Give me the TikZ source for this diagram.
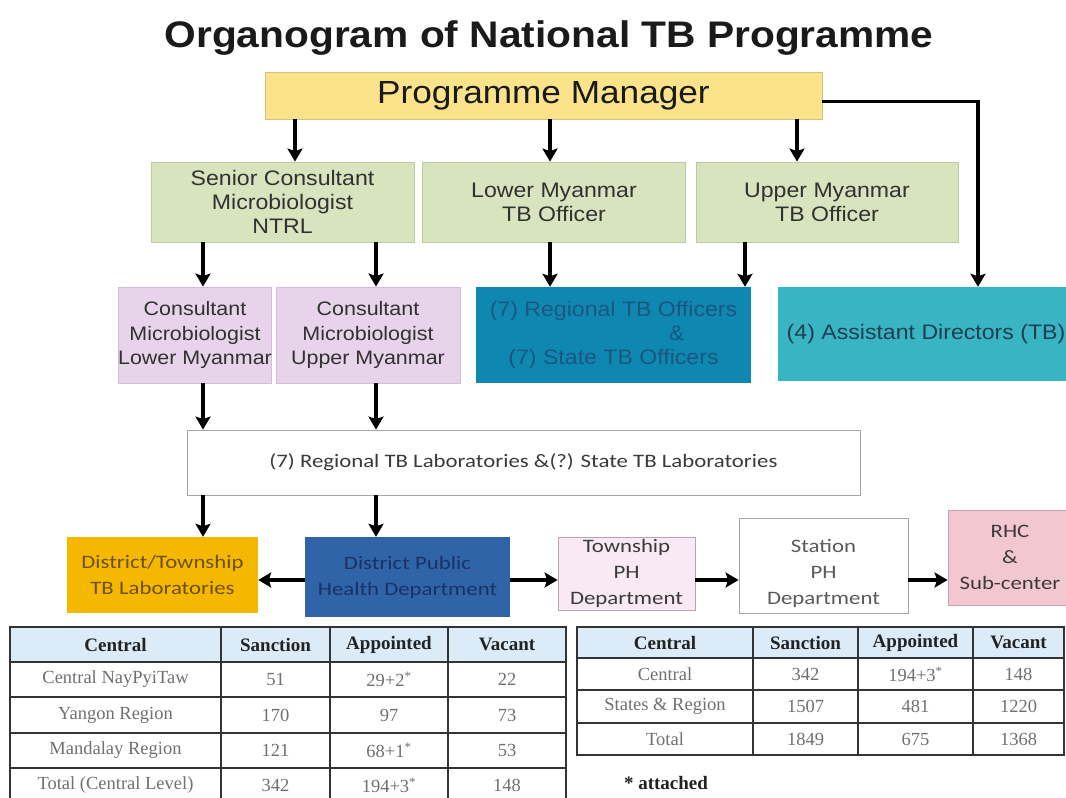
\documentclass[tikz,border=0pt]{standalone}
\usepackage{fontspec}
\newfontfamily\arialx{Liberation Sans}[FakeStretch=1.1]
\newfontfamily\calibrix{Carlito}[FakeStretch=1.2]
\newfontfamily\tabfont{Liberation Serif}
\usetikzlibrary{arrows.meta}
\definecolor{titletext}{HTML}{1A1A1A}
\definecolor{pmfill}{HTML}{FBE38B}
\definecolor{pmline}{HTML}{D4C37A}
\definecolor{greenfill}{HTML}{D7E4BD}
\definecolor{greenline}{HTML}{BCCB9E}
\definecolor{pinkfill}{HTML}{E7D3EA}
\definecolor{pinkline}{HTML}{D2BCD6}
\definecolor{regfill}{HTML}{0F88B1}
\definecolor{regtext}{HTML}{1A567F}
\definecolor{adfill}{HTML}{39B4C3}
\definecolor{adtext}{HTML}{1D3F52}
\definecolor{boxline}{HTML}{A6A6A6}
\definecolor{labtext}{HTML}{3A3A3A}
\definecolor{orangefill}{HTML}{F5B801}
\definecolor{orangetext}{HTML}{6E4F10}
\definecolor{bluefill}{HTML}{3064A9}
\definecolor{bluetext}{HTML}{1A3262}
\definecolor{lightpink}{HTML}{F8E9F4}
\definecolor{lightpinkline}{HTML}{B9A3B5}
\definecolor{rhcfill}{HTML}{F3C7D0}
\definecolor{rhcline}{HTML}{C9A2AC}
\definecolor{headfill}{HTML}{DCEBF8}
\definecolor{headtext}{HTML}{222222}
\definecolor{celltext}{HTML}{707070}
\definecolor{tabline}{HTML}{333333}
\begin{document}
\begin{tikzpicture}[
    x=1pt, y=-1pt,
    every node/.style={inner sep=0pt, align=center},
    box/.style={draw, line width=0.8pt},
    arr/.style={line width=3.6pt, -{Stealth[length=13pt,width=15pt,inset=2.5pt]}},
    titlefont/.style={font=\arialx\bfseries\fontsize{37}{44}\selectfont, text=titletext},
    bigfont/.style={font=\arialx\fontsize{32}{38}\selectfont, text=titletext},
    boxfont/.style={font=\arialx\fontsize{21}{24}\selectfont, text=titletext!90},
    smallboxfont/.style={font=\arialx\fontsize{19.5}{24.5}\selectfont, text=titletext!90},
    labfont/.style={font=\calibrix\fontsize{19}{26}\selectfont},
    headfont/.style={font=\tabfont\bfseries\fontsize{19}{22}\selectfont, text=headtext},
    cellfont/.style={font=\tabfont\fontsize{18.5}{22}\selectfont, text=celltext},
    tabrule/.style={draw=tabline, line width=2pt}
]
\useasboundingbox (0,0) rectangle (1066,798);
\fill[white] (0,0) rectangle (1066,798);

\node[titlefont] (title) at (549,38) {Organogram of National TB Programme};
\node[box, bigfont, fill=pmfill, draw=pmline, minimum width=557, minimum height=47] (pm) at (543.5,95.5) {Programme Manager};

\node[box, boxfont, fill=greenfill, draw=greenline, minimum width=263, minimum height=80] (senior) at (282.5,202) {Senior Consultant\\Microbiologist\\NTRL};
\node[box, boxfont, fill=greenfill, draw=greenline, minimum width=263, minimum height=80] (lowertb) at (554,202) {Lower Myanmar\\TB Officer};
\node[box, boxfont, fill=greenfill, draw=greenline, minimum width=262, minimum height=80] (uppertb) at (827,202) {Upper Myanmar\\TB Officer};

\node[box, smallboxfont, fill=pinkfill, draw=pinkline, minimum width=150, minimum height=96] (conlower) at (195,335) {Consultant\\Microbiologist\\Lower Myanmar};
\node[box, smallboxfont, fill=pinkfill, draw=pinkline, minimum width=184, minimum height=96] (conupper) at (368,335) {Consultant\\Microbiologist\\Upper Myanmar};
\node[boxfont, fill=regfill, text=regtext, minimum width=275, minimum height=96] (regional) at (613.5,335) {(7) Regional TB Officers\\\hspace*{6em}\&\\(7) State TB Officers};
\node[boxfont, fill=adfill, text=adtext, minimum width=296, minimum height=94] (assistant) at (926,334) {(4) Assistant Directors (TB)};

\node[box, labfont, draw=boxline, fill=white, text=labtext, minimum width=673, minimum height=65] (labs) at (523.5,462.5) {(7) Regional TB Laboratories \&(?) State TB Laboratories};

\node[labfont, fill=orangefill, text=orangetext, minimum width=191, minimum height=76] (distlab) at (162.5,575) {District/Township\\TB Laboratories};
\node[labfont, fill=bluefill, text=bluetext, minimum width=205, minimum height=80] (dphd) at (407.5,577) {District Public\\Health Department};
\node[box, labfont, fill=lightpink, draw=lightpinkline, text=labtext, minimum width=137, minimum height=73] (township) at (626.5,573.5) {Township\\PH\\Department};
\node[box, draw=boxline, fill=white, minimum width=169, minimum height=95] (station) at (823.5,565.5) {};
\node[labfont, text=celltext!80!black] (stationtext) at (823.5,573) {Station\\PH\\Department};
\node[box, labfont, fill=rhcfill, draw=rhcline, text=labtext, minimum width=124, minimum height=95] (rhc) at (1010,557.5) {RHC\\\&\\Sub-center};

\draw[arr] (295,0 |- pm.south) -- (295,0 |- senior.north);
\draw[arr] (550,0 |- pm.south) -- (550,0 |- lowertb.north);
\draw[arr] (797,0 |- pm.south) -- (797,0 |- uppertb.north);
\draw[arr] ([yshift=-6pt]pm.east) -| (978,0 |- assistant.north);
\draw[arr] (203,0 |- senior.south) -- (203,0 |- conlower.north);
\draw[arr] (376,0 |- senior.south) -- (376,0 |- conupper.north);
\draw[arr] (550,0 |- lowertb.south) -- (550,0 |- regional.north);
\draw[arr] (745,0 |- uppertb.south) -- (745,0 |- regional.north);
\draw[arr] (203,0 |- conlower.south) -- (203,0 |- labs.north);
\draw[arr] (376,0 |- conupper.south) -- (376,0 |- labs.north);
\draw[arr] (203,0 |- labs.south) -- (203,0 |- distlab.north);
\draw[arr] (376,0 |- labs.south) -- (376,0 |- dphd.north);
\draw[arr] (dphd.west |- 0,580) -- (distlab.east |- 0,580);
\draw[arr] (dphd.east |- 0,580) -- (township.west |- 0,580);
\draw[arr] (township.east |- 0,580) -- (station.west |- 0,580);
\draw[arr] (station.east |- 0,580) -- (rhc.west |- 0,580);

\fill[headfill] (10,627) rectangle (566,662);
\draw[tabrule] (10,627) rectangle (566,803);
\foreach \y in {662,697,733,768} \draw[tabrule] (10,\y) -- (566,\y);
\foreach \x in {221,330,448} \draw[tabrule] (\x,627) -- (\x,803);
\foreach \x/\t [count=\i] in {115.5/Central, 275.5/Sanction, 389/Appointed, 507/Vacant}
    \node[headfont] (lhead\i) at (\x,644.5) {\t};
\foreach \y/\a/\b/\c/\d [count=\i] in {679.5/Central NayPyiTaw/51/29+2\textsuperscript{*}/22,
    715/Yangon Region/170/97/73, 750.5/Mandalay Region/121/68+1\textsuperscript{*}/53,
    785.5/Total (Central Level)/342/194+3\textsuperscript{*}/148} {
    \node[cellfont] (lrow\i a) at (115.5,\y) {\a};
    \node[cellfont] (lrow\i b) at (275.5,\y) {\b};
    \node[cellfont] (lrow\i c) at (389,\y) {\c};
    \node[cellfont] (lrow\i d) at (507,\y) {\d};
}

\fill[headfill] (577,627) rectangle (1064,658);
\draw[tabrule] (577,627) rectangle (1064,755);
\foreach \y in {658,690,723} \draw[tabrule] (577,\y) -- (1064,\y);
\foreach \x in {753,858,973} \draw[tabrule] (\x,627) -- (\x,755);
\foreach \x/\t [count=\i] in {665/Central, 805.5/Sanction, 915.5/Appointed, 1018.5/Vacant}
    \node[headfont] (rhead\i) at (\x,642.5) {\t};
\foreach \y/\a/\b/\c/\d [count=\i] in {674/Central/342/194+3\textsuperscript{*}/148,
    706.5/States \& Region/1507/481/1220, 739/Total/1849/675/1368} {
    \node[cellfont] (rrow\i a) at (665,\y) {\a};
    \node[cellfont] (rrow\i b) at (805.5,\y) {\b};
    \node[cellfont] (rrow\i c) at (915.5,\y) {\c};
    \node[cellfont] (rrow\i d) at (1018.5,\y) {\d};
}
\node[headfont] (note) at (666,783) {* attached};
\end{tikzpicture}
\end{document}
